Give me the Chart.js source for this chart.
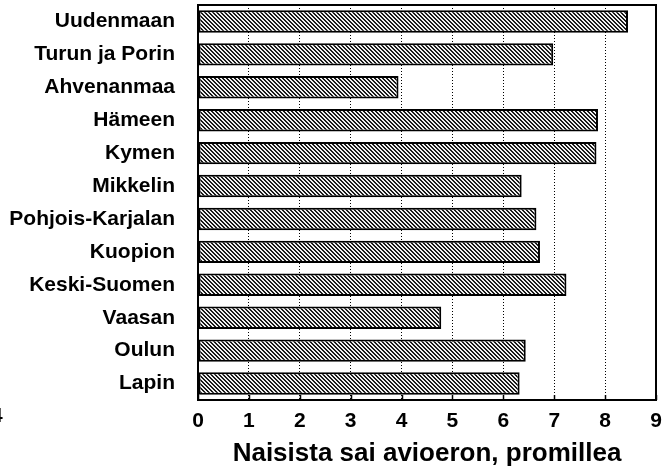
<!DOCTYPE html>
<html>
<head>
<meta charset="utf-8">
<script src="https://cdn.jsdelivr.net/npm/chart.js@4"></script>
<style>
  html, body { margin: 0; padding: 0; background: #fff; }
  #wrap { width: 664px; height: 469px; }
</style>
</head>
<body>
<div id="wrap"><canvas id="c" width="664" height="469"></canvas></div>
<script>
const categories = ["Uudenmaan", "Turun ja Porin", "Ahvenanmaa", "Hämeen", "Kymen", "Mikkelin",
  "Pohjois-Karjalan", "Kuopion", "Keski-Suomen", "Vaasan", "Oulun", "Lapin"];
const values = [8.45, 6.98, 3.94, 7.86, 7.83, 6.36, 6.65, 6.72, 7.24, 4.78, 6.44, 6.32];
const xTicks = [0, 1, 2, 3, 4, 5, 6, 7, 8, 9];
const axisTitle = "Naisista sai avioeron, promillea";
const strayMark = "4";

const FONT = "'Liberation Sans', Arial, Helvetica, sans-serif";

// hatched gray fill pattern
function makePattern() {
  const p = document.createElement('canvas');
  p.width = 4; p.height = 4;
  const g = p.getContext('2d');
  g.fillStyle = '#f0f0f0';
  g.fillRect(0, 0, 4, 4);
  g.fillStyle = '#1a1a1a';
  for (let y = 0; y < 4; y++) {
    for (let x = 0; x < 4; x++) {
      const d = ((x - y) % 4 + 4) % 4;
      if (d === 0 || d === 1) g.fillRect(x, y, 1, 1);
    }
  }
  return document.getElementById('c').getContext('2d').createPattern(p, 'repeat');
}

const framePlugin = {
  id: 'frame',
  afterDatasetsDraw(chart) {
    const { ctx, chartArea: a } = chart;
    const xs = chart.scales.x;
    ctx.save();
    ctx.strokeStyle = '#000';
    // inward tick marks on the bottom axis
    ctx.lineWidth = 1.5;
    xTicks.forEach(v => {
      const px = Math.round(xs.getPixelForValue(v)) + 0.5;
      ctx.beginPath();
      ctx.moveTo(px, a.bottom);
      ctx.lineTo(px, a.bottom - 5);
      ctx.stroke();
    });
    // frame
    ctx.lineWidth = 2;
    ctx.strokeRect(a.left, a.top, a.right - a.left, a.bottom - a.top);
    // stray scanned mark at the left edge
    ctx.fillStyle = '#000';
    ctx.font = 'bold 21px ' + FONT;
    ctx.textBaseline = 'middle';
    ctx.textAlign = 'left';
    ctx.fillText(strayMark, -9, 416);
    ctx.restore();
  }
};

const chart = new Chart(document.getElementById('c'), {
  type: 'bar',
  data: {
    labels: categories,
    datasets: [{
      data: values,
      backgroundColor: makePattern(),
      borderColor: '#000',
      borderWidth: 2,
      borderSkipped: false,
      barPercentage: 0.68,
      categoryPercentage: 1.0
    }]
  },
  options: {
    indexAxis: 'y',
    responsive: false,
    animation: false,
    events: [],
    layout: { padding: { left: 0, right: 8, top: 5, bottom: 0 } },
    plugins: { legend: { display: false }, tooltip: { enabled: false } },
    scales: {
      x: {
        min: 0, max: 9,
        afterBuildTicks(scale) { scale.ticks = xTicks.map(v => ({ value: v })); },
        afterFit(scale) {
          scale.height = 69;
          scale.paddingLeft = 0; scale.paddingRight = 0;
          scale.paddingTop = 0; scale.paddingBottom = 0;
        },
        grid: { color: '#000', lineWidth: 1, drawTicks: false },
        border: { display: false, dash: [1, 2] },
        ticks: {
          color: '#000', padding: 9, maxRotation: 0, autoSkip: false,
          font: { family: FONT, size: 21, weight: 'bold' }
        },
        title: {
          display: true, text: axisTitle, color: '#000',
          padding: { top: 0, bottom: 0 },
          font: { family: FONT, size: 26, weight: 'bold' }
        }
      },
      y: {
        afterFit(scale) {
          scale.width = 198;
          scale.paddingLeft = 0; scale.paddingRight = 0;
          scale.paddingTop = 0; scale.paddingBottom = 0;
        },
        grid: { display: false, drawTicks: false },
        border: { display: false },
        ticks: {
          color: '#000', padding: 23, autoSkip: false,
          font: { family: FONT, size: 21, weight: 'bold' }
        }
      }
    }
  },
  plugins: [framePlugin]
});
</script>
</body>
</html>
